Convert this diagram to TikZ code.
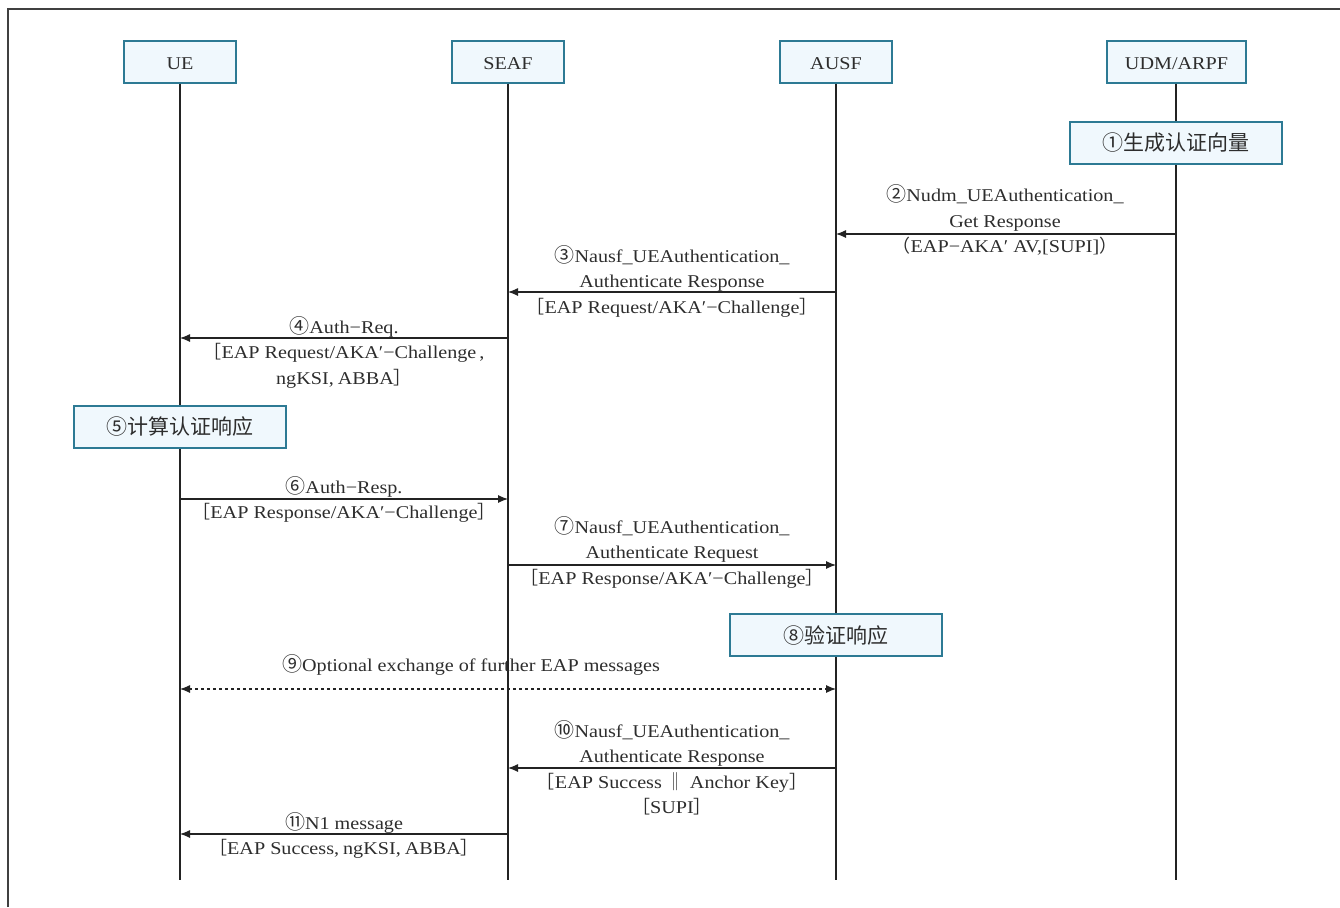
\documentclass[tikz,border=0pt]{standalone}
\usepackage{fontspec}
\setmainfont[FakeStretch=1.12]{Liberation Serif}
\newfontfamily\cjk{Noto Sans CJK SC}
\usetikzlibrary{arrows.meta}
\newcommand\cn[1]{{\cjk #1}}
% circled step numbers, set a little larger than the running text
\newcommand\cd[1]{{\cjk\fontsize{20}{25.5}\selectfont #1}}
% narrow comma used inside the bracketed parameter lists
\newcommand\cm{,\hspace{4pt}}
\definecolor{boxc}{RGB}{45,122,148}
\definecolor{boxf}{RGB}{240,248,253}
\definecolor{inkc}{RGB}{35,35,35}
\definecolor{txtc}{RGB}{45,45,45}
\begin{document}
\begin{tikzpicture}[x=1pt,y=-1pt,
  actor/.style={draw=boxc, fill=boxf, line width=1.3pt, minimum width=112pt,
    minimum height=42pt, inner sep=0pt, text height=16pt, text depth=0pt,
    text=txtc, font=\fontsize{18}{22}\selectfont},
  stepbox/.style={draw=boxc, fill=boxf, line width=1.3pt, minimum width=212pt,
    minimum height=42pt, inner sep=0pt, text=txtc, font=\cjk\fontsize{21}{24}\selectfont},
  life/.style={draw=inkc, line width=1.1pt},
  msg/.style={draw=inkc, line width=1.1pt, -{Latex[length=10pt,width=8pt]}},
  optmsg/.style={draw=inkc, line width=1.1pt, dash pattern=on 3pt off 3pt,
    {Latex[length=10pt,width=8pt]}-{Latex[length=10pt,width=8pt]}},
  lbl/.style={align=center, inner sep=0pt, text=txtc, font=\fontsize{18}{25.5}\selectfont},
  frame/.style={draw=black!75, line width=2pt}]
\useasboundingbox (0,0) rectangle (1340,907);

% outer frame (top and left edges)
\coordinate (fbl) at (7.5,907);
\coordinate (ftl) at (7.5,9);
\coordinate (ftr) at (1340,9);
\draw[frame] (fbl) -- (ftl) -- (ftr);

% participants
\node[actor] (ue) at (180,62) {UE};
\node[actor] (seaf) at (508,62) {SEAF};
\node[actor] (ausf) at (836,62) {AUSF};
\node[actor, minimum width=139pt] (udm) at (1176.5,62) {UDM/ARPF};

% lifelines
\coordinate (ue-end) at (180,880);
\coordinate (seaf-end) at (508,880);
\coordinate (ausf-end) at (836,880);
\coordinate (udm-end) at (1176,880);
\draw[life] (ue.south) -- (ue-end);
\draw[life] (seaf.south) -- (seaf-end);
\draw[life] (ausf.south) -- (ausf-end);
\draw[life] (udm.south -| udm-end) -- (udm-end);

% local processing steps
\node[stepbox] (s1) at (1176,143) {①生成认证向量};
\node[stepbox] (s5) at (180,427) {⑤计算认证响应};
\node[stepbox] (s8) at (836,635) {⑧验证响应};

% message end points on the lifelines
\coordinate (m2a) at (1176,234); \coordinate (m2b) at (836,234);
\coordinate (m3a) at (836,292);  \coordinate (m3b) at (508,292);
\coordinate (m4a) at (508,338);  \coordinate (m4b) at (180,338);
\coordinate (m6a) at (180,499);  \coordinate (m6b) at (508,499);
\coordinate (m7a) at (508,565);  \coordinate (m7b) at (836,565);
\coordinate (m9a) at (180,689);  \coordinate (m9b) at (836,689);
\coordinate (m10a) at (836,768); \coordinate (m10b) at (508,768);
\coordinate (m11a) at (508,834); \coordinate (m11b) at (180,834);

% messages
\draw[msg] (m2a) -- (m2b);
\draw[msg] (m3a) -- (m3b);
\draw[msg] (m4a) -- (m4b);
\draw[msg] (m6a) -- (m6b);
\draw[msg] (m7a) -- (m7b);
\draw[optmsg] (m9a) -- (m9b);
\draw[msg] (m10a) -- (m10b);
\draw[msg] (m11a) -- (m11b);

% message labels
\node[lbl] (l2) at (1005,220) {\cd{②}Nudm\_UEAuthentication\_\\Get Response\\\cn{（}EAP−AKA′ AV,[SUPI]\cn{）}};
\node[lbl] (l3) at (672,281) {\cd{③}Nausf\_UEAuthentication\_\\Authenticate Response\\\cn{［}EAP Request/AKA′−Challenge\cn{］}};
\node[lbl] (l4) at (344,352) {\cd{④}Auth−Req.\\\cn{［}EAP Request/AKA′−Challenge\,,\\ngKSI\cm ABBA\cn{］}};
\node[lbl] (l6) at (344,499.5) {\cd{⑥}Auth−Resp.\\\cn{［}EAP Response/AKA′−Challenge\cn{］}};
\node[lbl] (l7) at (672,552) {\cd{⑦}Nausf\_UEAuthentication\_\\Authenticate Request\\\cn{［}EAP Response/AKA′−Challenge\cn{］}};
\node[lbl] (l9) at (471,665) {\cd{⑨}Optional exchange of further EAP messages};
\node[lbl] (l10) at (672,768) {\cd{⑩}Nausf\_UEAuthentication\_\\Authenticate Response\\\cn{［}EAP Success \cn{‖} Anchor Key\cn{］}\\\cn{［}SUPI\cn{］}};
\node[lbl] (l11) at (344,835.5) {\cd{⑪}N1 message\\\cn{［}EAP Success\cm ngKSI\cm ABBA\cn{］}};
\end{tikzpicture}
\end{document}
